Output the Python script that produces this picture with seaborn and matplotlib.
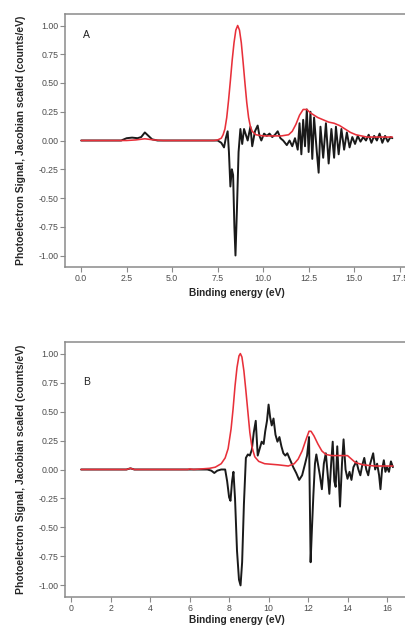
import numpy as np
import pandas as pd
import matplotlib
matplotlib.use("Agg")
import matplotlib.pyplot as plt
import seaborn as sns

# ---- Panel A: binding energy (eV) and Jacobian-scaled signal ----
a_black_x = [0.0, 2.2, 2.5, 2.8, 3.1, 3.3, 3.5, 3.7, 3.9, 4.2, 7.5, 7.7, 7.85, 7.95, 8.05,
             8.12, 8.2, 8.28, 8.35, 8.42, 8.48, 8.56, 8.65, 8.75, 8.85, 8.95, 9.05, 9.15,
             9.3, 9.4, 9.55, 9.7, 9.8, 9.9, 10.05, 10.2, 10.35, 10.5, 10.65, 10.8, 10.95,
             11.1, 11.3, 11.45, 11.6, 11.75, 11.9, 12.0, 12.1, 12.2, 12.3, 12.4, 12.5,
             12.6, 12.7, 12.8, 12.95, 13.05, 13.15, 13.3, 13.45, 13.6, 13.75, 13.9, 14.0,
             14.15, 14.3, 14.45, 14.6, 14.75, 14.9, 15.05, 15.2, 15.35, 15.5, 15.65, 15.8,
             15.95, 16.1, 16.25, 16.4, 16.55, 16.7, 16.85, 17.0, 17.1]
a_black_y = [0.0, 0.0, 0.02, 0.025, 0.02, 0.03, 0.07, 0.04, 0.01, 0.0, 0.0, -0.02, -0.06,
             0.02, 0.08, -0.1, -0.4, -0.25, -0.3, -0.75, -1.0, -0.6, -0.1, 0.1, -0.03,
             0.1, 0.05, 0.0, 0.12, -0.05, 0.08, 0.13, 0.04, 0.0, 0.06, 0.04, 0.06, 0.03,
             0.05, 0.08, 0.02, 0.0, -0.04, 0.0, -0.05, 0.02, -0.08, 0.15, -0.12, 0.18,
             -0.05, 0.27, -0.1, 0.25, -0.16, 0.2, -0.1, -0.28, 0.12, -0.15, 0.15, -0.2,
             0.1, -0.15, 0.12, -0.12, 0.1, -0.08, 0.07, -0.06, 0.03, -0.03, 0.04, -0.01,
             0.03, 0.0, 0.05, -0.02, 0.04, 0.0, 0.06, -0.02, 0.04, -0.01, 0.03, 0.02]

a_red_x = [0.0, 2.5, 3.0, 3.5, 4.0, 4.5, 7.3, 7.5, 7.7, 7.8, 7.9, 8.0, 8.1, 8.2, 8.3, 8.4,
           8.5, 8.6, 8.7, 8.8, 8.9, 9.0, 9.1, 9.2, 9.3, 9.4, 9.6, 10.0, 10.5, 11.0, 11.4,
           11.6, 11.8, 12.0, 12.2, 12.4, 12.6, 12.8, 13.0, 13.3, 13.6, 13.9, 14.2, 14.5,
           14.8, 15.1, 15.4, 15.7, 16.0, 16.5, 17.1]
a_red_y = [0.0, 0.0, 0.005, 0.015, 0.005, 0.0, 0.0, 0.005, 0.02, 0.05, 0.1, 0.2, 0.35,
           0.52, 0.7, 0.85, 0.96, 1.0, 0.96, 0.85, 0.68, 0.5, 0.33, 0.2, 0.12, 0.08,
           0.05, 0.04, 0.04, 0.04, 0.05, 0.08, 0.14, 0.22, 0.27, 0.27, 0.24, 0.22, 0.2,
           0.18, 0.16, 0.15, 0.13, 0.1, 0.07, 0.05, 0.04, 0.03, 0.03, 0.03, 0.03]

# ---- Panel B ----
b_black_x = [0.5, 2.8, 3.0, 3.2, 6.9, 7.1, 7.25, 7.4, 7.6, 7.8, 7.9, 8.0, 8.07, 8.15,
             8.22, 8.3, 8.4, 8.5, 8.58, 8.66, 8.75, 8.85, 8.95, 9.05, 9.15, 9.25, 9.35,
             9.45, 9.55, 9.65, 9.75, 9.83, 9.92, 10.0, 10.08, 10.16, 10.25, 10.35, 10.45,
             10.55, 10.65, 10.75, 10.85, 10.95, 11.1, 11.25, 11.4, 11.55, 11.7, 11.85,
             11.95, 12.05, 12.13, 12.2, 12.27, 12.35, 12.42, 12.5, 12.6, 12.7, 12.8, 12.9,
             13.0, 13.08, 13.17, 13.25, 13.33, 13.4, 13.48, 13.55, 13.62, 13.72, 13.8,
             13.9, 14.0, 14.1, 14.2, 14.3, 14.45, 14.55, 14.65, 14.75, 14.85, 14.95, 15.05,
             15.15, 15.3, 15.4, 15.5, 15.6, 15.67, 15.75, 15.84, 15.92, 16.0, 16.1, 16.2,
             16.3]
b_black_y = [0.0, 0.0, 0.01, 0.0, 0.0, -0.01, -0.03, -0.01, 0.0, 0.0, -0.1, -0.24, -0.27,
             -0.1, -0.02, -0.25, -0.7, -0.95, -1.0, -0.8, -0.3, 0.1, 0.13, 0.12, 0.17,
             0.32, 0.42, 0.12, 0.18, 0.24, 0.22, 0.33, 0.42, 0.56, 0.45, 0.38, 0.44, 0.3,
             0.24, 0.28, 0.2, 0.14, 0.12, 0.14, 0.08, 0.02, -0.03, -0.09, -0.05, 0.05,
             0.12, 0.28, -0.8, -0.5, -0.22, 0.05, 0.13, 0.05, -0.05, -0.17, 0.05, 0.14,
             -0.05, -0.21, 0.05, 0.24, -0.1, -0.15, 0.2, -0.05, -0.32, 0.05, 0.26, 0.0,
             -0.08, -0.02, -0.09, 0.02, 0.07, 0.0, -0.05, 0.04, 0.1, 0.0, -0.05, 0.05,
             0.14, 0.0, 0.05, -0.05, -0.17, 0.0, 0.08, -0.02, 0.02, -0.02, 0.07, 0.02]

b_red_x = [0.5, 2.8, 3.0, 3.2, 5.9, 6.0, 6.2, 7.0, 7.3, 7.6, 7.8, 7.95, 8.1, 8.2, 8.3,
           8.4, 8.5, 8.57, 8.65, 8.75, 8.85, 8.95, 9.05, 9.15, 9.3, 9.5, 9.8, 10.5, 11.0,
           11.3, 11.5, 11.7, 11.9, 12.05, 12.15, 12.3, 12.5, 12.7, 12.9, 13.2, 13.6,
           14.0, 14.2, 14.4, 14.8, 15.4, 16.3]
b_red_y = [0.0, 0.0, 0.01, 0.0, 0.0, 0.005, 0.0, 0.01, 0.02, 0.05, 0.1, 0.18, 0.35, 0.52,
           0.72, 0.88, 0.98, 1.0, 0.97, 0.85, 0.68, 0.5, 0.32, 0.2, 0.11, 0.07, 0.05,
           0.04, 0.03, 0.05, 0.09, 0.16, 0.26, 0.33, 0.33, 0.29, 0.22, 0.16, 0.13, 0.12,
           0.12, 0.12, 0.09, 0.06, 0.04, 0.03, 0.03]

a_xticks = [0.0, 2.5, 5.0, 7.5, 10.0, 12.5, 15.0, 17.5]
b_xticks = [0, 2, 4, 6, 8, 10, 12, 14, 16]
yticks = [-1.00, -0.75, -0.50, -0.25, 0.00, 0.25, 0.50, 0.75, 1.00]

panel_labels = ["A", "B"]
xlabel = "Binding energy (eV)"
ylabel = "Photoelectron Signal, Jacobian scaled (counts/eV)"

sns.set_theme(style="white")
plt.rcParams["font.family"] = ["Liberation Sans", "DejaVu Sans"]

BLACK = "#1a1a1a"
RED = "#e8303a"
GREY = "#8a8a8a"

W, H = 406, 626
fig = plt.figure(figsize=(W / 100, H / 100), dpi=100)
fig.patch.set_facecolor("white")


def frame(px_left, px_top, px_right, px_bottom):
    return [px_left / W, 1 - px_bottom / H, (px_right - px_left) / W, (px_bottom - px_top) / H]


ax_a = fig.add_axes(frame(65.5, 14, 408, 267))
ax_b = fig.add_axes(frame(65.5, 342, 408.5, 597))

panels = [
    (ax_a, a_black_x, a_black_y, a_red_x, a_red_y, a_xticks, (-0.86, 17.96), "{:.1f}",
     (0.06, 0.917), -0.103),
    (ax_b, b_black_x, b_black_y, b_red_x, b_red_y, b_xticks, (-0.29, 17.09), "{:d}",
     (0.06, 0.843), -0.090),
]

for (ax, bx, by, rx, ry, xt, xl, fmt, labpos, xlab_y), lab in zip(panels, panel_labels):
    black = pd.DataFrame({"energy": bx, "signal": by})
    red = pd.DataFrame({"energy": rx, "signal": ry})
    sns.lineplot(data=black, x="energy", y="signal", ax=ax, color=BLACK,
                 linewidth=1.4, sort=False, estimator=None)
    sns.lineplot(data=red, x="energy", y="signal", ax=ax, color=RED,
                 linewidth=1.15, sort=False, estimator=None)
    ax.set_xlim(*xl)
    ax.set_ylim(-1.1, 1.1)
    ax.set_xticks(xt)
    ax.set_xticklabels([fmt.format(v) for v in xt])
    ax.set_yticks(yticks)
    ax.set_yticklabels([f"{v:.2f}" for v in yticks])
    ax.tick_params(axis="both", which="major", length=3.5, width=0.8, color=GREY,
                   labelsize=6.3, labelcolor="#4d4d4d", pad=1.5, left=True, bottom=True)
    for sp in ax.spines.values():
        sp.set_color(GREY)
        sp.set_linewidth(1.1)
    ax.set_xlabel(xlabel, fontsize=7.3, fontweight="bold", va="center")
    ax.set_ylabel(ylabel, fontsize=7.5, fontweight="bold", va="center")
    ax.xaxis.set_label_coords(0.5, xlab_y)
    ax.yaxis.set_label_coords(-0.13, 0.5)
    ax.text(labpos[0], labpos[1], lab, transform=ax.transAxes,
            fontsize=7.5, ha="center", va="center", color="#222222")

fig.savefig("out.png", dpi=100, facecolor="white")
